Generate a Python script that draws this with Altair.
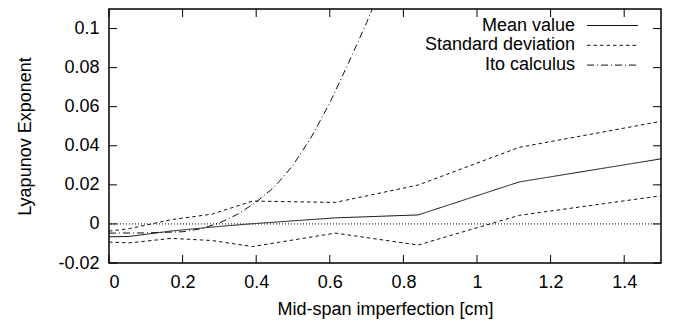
import altair as alt
import pandas as pd

# ---- data ----
x_pts = [0.0, 0.055, 0.17, 0.28, 0.39, 0.615, 0.84, 1.115, 1.5]
mean_vals = [-0.0066, -0.0064, -0.0036, -0.0016, 0.0001, 0.0031, 0.0046, 0.0215, 0.0333]
std_upper = [-0.0037, -0.0024, 0.0022, 0.0050, 0.0117, 0.0110, 0.0199, 0.0392, 0.0525]
std_lower = [-0.0093, -0.0097, -0.0074, -0.0085, -0.0116, -0.0047, -0.0108, 0.0044, 0.0144]
ito_x = [0.0, 0.1, 0.2, 0.25, 0.3, 0.35, 0.4, 0.45, 0.5, 0.55, 0.6, 0.65, 0.7, 0.75]
ito_vals = [-0.0047, -0.0046, -0.0040, -0.0025, 0.0005, 0.0050, 0.0112, 0.0190,
            0.0300, 0.0445, 0.0620, 0.0820, 0.1030, 0.1260]
series_names = ["Mean value", "Standard deviation", "Ito calculus"]
x_ticks = [0, 0.2, 0.4, 0.6, 0.8, 1, 1.2, 1.4]
y_ticks = [-0.02, 0, 0.02, 0.04, 0.06, 0.08, 0.1]
zero_level = [0.0]

rows = []
for x, y in zip(x_pts, mean_vals):
    rows.append({"x": x, "y": y, "series": series_names[0], "line": "mean"})
for x, y in zip(x_pts, std_upper):
    rows.append({"x": x, "y": y, "series": series_names[1], "line": "std_up"})
for x, y in zip(x_pts, std_lower):
    rows.append({"x": x, "y": y, "series": series_names[1], "line": "std_low"})
for x, y in zip(ito_x, ito_vals):
    rows.append({"x": x, "y": y, "series": series_names[2], "line": "ito"})
df = pd.DataFrame(rows)

W, H = 552, 254
FONT = "Liberation Sans"
FS = 18
TICK = 8

xs = alt.Scale(domain=[0, 1.5], nice=False, zero=False)
ys = alt.Scale(domain=[-0.02, 0.11], nice=False, zero=False)
dash_scale = alt.Scale(domain=series_names, range=[[1, 0], [3.5, 3], [7, 3, 1, 3]])

x_axis = alt.Axis(values=x_ticks, tickSize=0, domain=False, grid=False,
                  labelExpr="toString(datum.value)", labelFont=FONT, labelFontSize=FS,
                  labelColor="black", labelPadding=19, labelBaseline="middle",
                  title="Mid-span imperfection [cm]", titleFont=FONT, titleFontSize=FS,
                  titleFontWeight="normal", titleColor="black", titleY=46,
                  titleBaseline="middle")
y_axis = alt.Axis(values=y_ticks, tickSize=0, domain=False, grid=False,
                  labelExpr="toString(datum.value)", labelFont=FONT, labelFontSize=FS,
                  labelColor="black", labelPadding=10,
                  title="Lyapunov Exponent", titleFont=FONT, titleFontSize=FS,
                  titleFontWeight="normal", titleColor="black", titleX=-84,
                  titleY=H / 2, titleBaseline="middle")

zero = alt.Chart(pd.DataFrame({"y": zero_level})).mark_rule(
    color="black", strokeWidth=1, strokeDash=[1, 2]
).encode(y=alt.Y("y:Q", scale=ys, axis=y_axis))

lines = alt.Chart(df).mark_line(clip=True, strokeWidth=1, color="#111111").encode(
    x=alt.X("x:Q", scale=xs, axis=x_axis),
    y=alt.Y("y:Q", scale=ys, axis=y_axis),
    strokeDash=alt.StrokeDash("series:N", scale=dash_scale, legend=None),
    detail="line:N",
)

tx = pd.DataFrame({"x": x_ticks})
ty = pd.DataFrame({"y": y_ticks})
tick_style = dict(color="black", strokeWidth=1)
t_bottom = alt.Chart(tx).mark_rule(**tick_style).encode(
    x=alt.X("x:Q", scale=xs, axis=x_axis), y=alt.value(H), y2=alt.value(H - TICK))
t_top = alt.Chart(tx).mark_rule(**tick_style).encode(
    x=alt.X("x:Q", scale=xs, axis=x_axis), y=alt.value(0), y2=alt.value(TICK))
t_left = alt.Chart(ty).mark_rule(**tick_style).encode(
    y=alt.Y("y:Q", scale=ys, axis=y_axis), x=alt.value(0), x2=alt.value(TICK))
t_right = alt.Chart(ty).mark_rule(**tick_style).encode(
    y=alt.Y("y:Q", scale=ys, axis=y_axis), x=alt.value(W), x2=alt.value(W - TICK))

legend_layers = []
for i, name in enumerate(series_names):
    yy = 16.5 + i * 19.8
    legend_layers.append(
        alt.Chart(pd.DataFrame({"label": [name]})).mark_text(
            align="right", baseline="middle", font=FONT, fontSize=FS, color="black"
        ).encode(text="label:N", x=alt.value(466), y=alt.value(yy))
    )
    legend_layers.append(
        alt.Chart(pd.DataFrame({"series": [name]})).mark_rule(
            color="#111111", strokeWidth=1
        ).encode(x=alt.value(478), x2=alt.value(529), y=alt.value(yy),
                 strokeDash=alt.StrokeDash("series:N", scale=dash_scale, legend=None))
    )

chart = alt.layer(zero, lines, t_bottom, t_top, t_left, t_right, *legend_layers).properties(
    width=W, height=H,
    autosize=alt.AutoSizeParams(type="none"),
    padding={"left": 101, "top": 1, "right": 11, "bottom": 60},
    background="white",
).configure_view(stroke="black", strokeWidth=1.5)

chart.save("out.html", embed_options={"renderer": "svg", "actions": False})
